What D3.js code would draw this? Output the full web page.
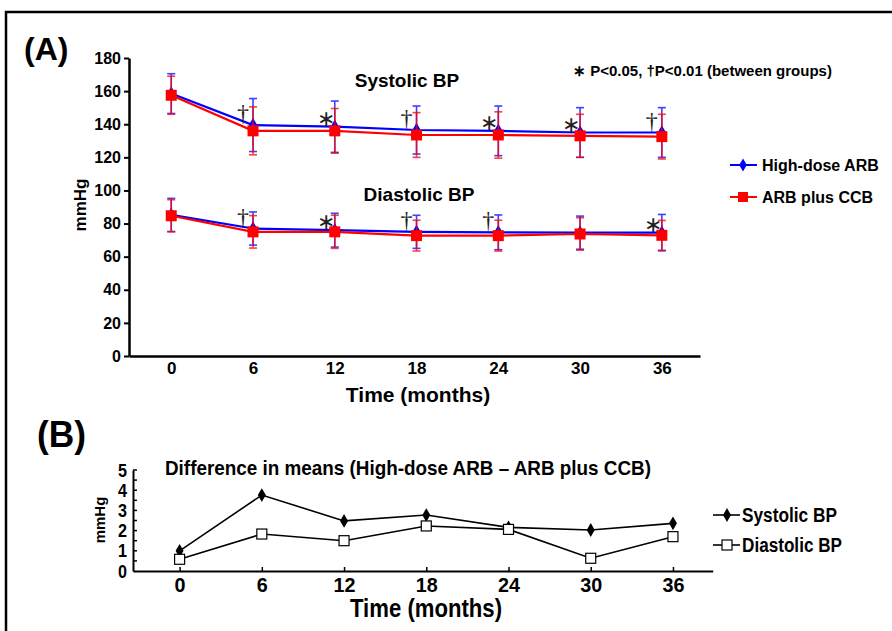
<!doctype html>
<html>
<head>
<meta charset="utf-8">
<script src="https://cdnjs.cloudflare.com/ajax/libs/d3/7.8.5/d3.min.js"></script>
<style>
  body { margin: 0; background: #fff; }
  svg { display: block; }
  .ta { font-family: "Liberation Sans", Arial, Helvetica, sans-serif; font-weight: bold; fill: #000; }
  .tb { font-family: "Liberation Sans", Arial, Helvetica, sans-serif; font-weight: bold; fill: #000; }
</style>
</head>
<body>
<svg width="892" height="631"></svg>
<script>
// ---- data ----
var months = [0, 6, 12, 18, 24, 30, 36];
var yTicksA = [0, 20, 40, 60, 80, 100, 120, 140, 160, 180];
var yTicksB = [0, 1, 2, 3, 4, 5];

var sysHigh = [158.5, 139.5, 138.5, 136.5, 136, 135, 135];
var sysHighSD = [12, 16, 15.5, 14.5, 15, 15, 15];
var sysCcb = [157.5, 136, 136, 133.5, 133.5, 133, 132.5];
var sysCcbSD = [11.5, 14.5, 13.5, 13.5, 14, 13, 13.5];

var diaHigh = [85.2, 77, 76, 75, 74.7, 74.5, 74.5];
var diaHighSD = [10, 10, 10.2, 10, 10.5, 10, 11];
var diaCcb = [84.7, 75, 75, 72.7, 72.7, 73.7, 72.9];
var diaCcbSD = [9.7, 9.8, 10, 9.3, 9.3, 9.8, 9];

var sysSig = ["", "\u2020", "\u2217", "\u2020", "\u2217", "\u2217", "\u2020"];
var diaSig = ["", "\u2020", "\u2217", "\u2020", "\u2020", "", "\u2217"];

var diffSys = [1.0, 3.76, 2.48, 2.77, 2.16, 2.03, 2.36];
var diffDia = [0.58, 1.83, 1.5, 2.23, 2.06, 0.63, 1.7];

var svg = d3.select("svg");

// frame
svg.append("rect").attr("x", 6).attr("y", 12).attr("width", 900).attr("height", 700)
  .attr("fill", "none").attr("stroke", "#000").attr("stroke-width", 2.5);

// ================= Panel A =================
var xA = d3.scaleLinear().domain([-3.1, 38.8]).range([129, 700]);
var yA = d3.scaleLinear().domain([0, 180]).range([356, 58]);

var gA = svg.append("g");
var yAxA = gA.append("g").attr("transform", "translate(129,0)")
  .call(d3.axisLeft(yA).tickValues(yTicksA).tickSize(5).tickPadding(3).tickSizeOuter(0));
yAxA.selectAll("text").attr("class", "ta").style("font-size", "16px").attr("font-family", null);
var xAxA = gA.append("g").attr("transform", "translate(0,356)")
  .call(d3.axisBottom(xA).tickValues(months).tickSize(0).tickPadding(6).tickSizeOuter(0));
xAxA.selectAll("text").attr("class", "ta").style("font-size", "17px").attr("font-family", null);
[yAxA, xAxA].forEach(function (a) {
  a.select(".domain").attr("stroke-width", 2.5);
  a.selectAll(".tick line").attr("stroke-width", 2);
});

function series(g, vals, sds, color, marker) {
  var line = d3.line().x(function (d, i) { return xA(months[i]); }).y(function (d) { return yA(d); });
  g.append("path").datum(vals).attr("d", line).attr("fill", "none")
    .attr("stroke", color).attr("stroke-width", 2.2);
  var eb = g.append("g").attr("stroke", color).attr("stroke-width", 1.6).attr("opacity", 0.75);
  vals.forEach(function (v, i) {
    var x = xA(months[i]), y1 = yA(v + sds[i]), y2 = yA(v - sds[i]);
    eb.append("line").attr("x1", x).attr("x2", x).attr("y1", y1).attr("y2", y2);
    eb.append("line").attr("x1", x - 4).attr("x2", x + 4).attr("y1", y1).attr("y2", y1);
    eb.append("line").attr("x1", x - 4).attr("x2", x + 4).attr("y1", y2).attr("y2", y2);
  });
  vals.forEach(function (v, i) {
    var x = xA(months[i]), y = yA(v);
    if (marker === "diamond") {
      g.append("path").attr("d", d3.symbol(d3.symbolDiamond, 60)())
        .attr("transform", "translate(" + x + "," + y + ")").attr("fill", color);
    } else {
      g.append("rect").attr("x", x - 5.5).attr("y", y - 5.5).attr("width", 11).attr("height", 11)
        .attr("fill", color);
    }
  });
}
series(gA, sysHigh, sysHighSD, "#0000ff", "diamond");
series(gA, diaHigh, diaHighSD, "#0000ff", "diamond");
series(gA, sysCcb, sysCcbSD, "#ff0000", "square");
series(gA, diaCcb, diaCcbSD, "#ff0000", "square");

function sigMarks(sig, vals) {
  sig.forEach(function (s, i) {
    if (!s) return;
    var dagger = s === "\u2020";
    gA.append("text")
      .attr("x", xA(months[i]) - (dagger ? 10 : 9))
      .attr("y", yA(vals[i]) - (dagger ? 4 : 1))
      .attr("text-anchor", "middle")
      .style("font-family", "'Liberation Serif', 'Times New Roman', serif")
      .style("font-size", dagger ? "24px" : "22px")
      .attr("fill", "#222")
      .text(s);
  });
}
sigMarks(sysSig, sysHigh);
sigMarks(diaSig, diaHigh);

gA.append("text").attr("class", "ta").attr("x", 24).attr("y", 60).style("font-size", "32px").text("(A)");
gA.append("text").attr("class", "ta").attr("x", 407).attr("y", 87).attr("text-anchor", "middle")
  .style("font-size", "19px").text("Systolic BP");
gA.append("text").attr("class", "ta").attr("x", 419).attr("y", 201).attr("text-anchor", "middle")
  .style("font-size", "19px").text("Diastolic BP");
gA.append("text").attr("class", "ta").attr("x", 573).attr("y", 76).style("font-size", "15px")
  .text("\u2217 P<0.05, \u2020P<0.01 (between groups)");
gA.append("text").attr("class", "ta").attr("x", 418).attr("y", 402).attr("text-anchor", "middle")
  .style("font-size", "21px").text("Time (months)");
gA.append("text").attr("class", "ta").attr("transform", "translate(86,205) rotate(-90)")
  .attr("text-anchor", "middle").style("font-size", "17px").text("mmHg");

// legend A
var legA = [["High-dose ARB", "#0000ff", "diamond", 165], ["ARB plus CCB", "#ff0000", "square", 197]];
legA.forEach(function (d) {
  gA.append("line").attr("x1", 730).attr("x2", 757).attr("y1", d[3]).attr("y2", d[3])
    .attr("stroke", d[1]).attr("stroke-width", 2);
  if (d[2] === "diamond") {
    gA.append("path").attr("d", d3.symbol(d3.symbolDiamond, 50)())
      .attr("transform", "translate(743," + d[3] + ")").attr("fill", d[1]);
  } else {
    gA.append("rect").attr("x", 738).attr("y", d[3] - 5).attr("width", 10).attr("height", 10).attr("fill", d[1]);
  }
  gA.append("text").attr("class", "ta").attr("x", 762).attr("y", d[3] + 6).style("font-size", "16px").text(d[0]);
});

// ================= Panel B =================
var xB = d3.scaleLinear().domain([-3.4, 38.9]).range([133, 712.7]);
var yB = d3.scaleLinear().domain([0, 5]).range([571, 470]);
var gB = svg.append("g");

var yAxB = gB.append("g").attr("transform", "translate(133,0)")
  .call(d3.axisLeft(yB).tickValues(yTicksB).tickFormat(d3.format("d")).tickSize(0).tickPadding(6).tickSizeOuter(0));
yAxB.selectAll("text").attr("class", "tb").style("font-size", "19px").attr("font-family", null)
  .attr("textLength", 9).attr("lengthAdjust", "spacingAndGlyphs");
// inward minor ticks every 0.5
gB.selectAll("line.minor").data(d3.range(0.5, 5.01, 0.5)).enter().append("line")
  .attr("x1", 133).attr("x2", 137).attr("y1", function (d) { return yB(d); })
  .attr("y2", function (d) { return yB(d); }).attr("stroke", "#000").attr("stroke-width", 1.5);
var xAxB = gB.append("g").attr("transform", "translate(0,571)")
  .call(d3.axisBottom(xB).tickValues(months).tickSize(-4).tickPadding(6).tickSizeOuter(0));
xAxB.selectAll("text").attr("class", "tb").style("font-size", "21px").attr("font-family", null)
  .attr("textLength", function (d) { return String(d).length * 11; })
  .attr("lengthAdjust", "spacingAndGlyphs");
[yAxB, xAxB].forEach(function (a) {
  a.select(".domain").attr("stroke-width", 2);
  a.selectAll(".tick line").attr("stroke-width", 1.5);
});

var lineB = d3.line().x(function (d, i) { return xB(months[i]); }).y(function (d) { return yB(d); });
gB.append("path").datum(diffSys).attr("d", lineB).attr("fill", "none").attr("stroke", "#000").attr("stroke-width", 1.6);
gB.append("path").datum(diffDia).attr("d", lineB).attr("fill", "none").attr("stroke", "#000").attr("stroke-width", 1.6);
diffSys.forEach(function (v, i) {
  gB.append("path").attr("d", d3.symbol(d3.symbolDiamond, 55)())
    .attr("transform", "translate(" + xB(months[i]) + "," + yB(v) + ")").attr("fill", "#000");
});
diffDia.forEach(function (v, i) {
  gB.append("rect").attr("x", xB(months[i]) - 5).attr("y", yB(v) - 5).attr("width", 10).attr("height", 10)
    .attr("fill", "#fff").attr("stroke", "#000").attr("stroke-width", 1.2);
});

gB.append("text").attr("class", "tb").attr("x", 37).attr("y", 447).attr("textLength", 49)
  .attr("lengthAdjust", "spacingAndGlyphs").style("font-size", "37px").text("(B)");
gB.append("text").attr("class", "tb").attr("x", 165).attr("y", 475).attr("textLength", 486)
  .attr("lengthAdjust", "spacingAndGlyphs").style("font-size", "21px")
  .text("Difference in means (High-dose ARB \u2013 ARB plus CCB)");
gB.append("text").attr("class", "tb").attr("x", 350).attr("y", 617).attr("textLength", 152)
  .attr("lengthAdjust", "spacingAndGlyphs").style("font-size", "25px").text("Time (months)");
gB.append("text").attr("class", "ta").attr("transform", "translate(105,520) rotate(-90)")
  .attr("text-anchor", "middle").style("font-size", "15px").text("mmHg");

var legB = [["Systolic BP", "diamond", 515, 95], ["Diastolic BP", "square", 545, 100]];
legB.forEach(function (d) {
  gB.append("line").attr("x1", 713).attr("x2", 740).attr("y1", d[2]).attr("y2", d[2])
    .attr("stroke", "#000").attr("stroke-width", 1.6);
  if (d[1] === "diamond") {
    gB.append("path").attr("d", d3.symbol(d3.symbolDiamond, 55)())
      .attr("transform", "translate(727," + d[2] + ")").attr("fill", "#000");
  } else {
    gB.append("rect").attr("x", 722).attr("y", d[2] - 5).attr("width", 10).attr("height", 10)
      .attr("fill", "#fff").attr("stroke", "#000").attr("stroke-width", 1.2);
  }
  gB.append("text").attr("class", "tb").attr("x", 742).attr("y", d[2] + 7).attr("textLength", d[3])
    .attr("lengthAdjust", "spacingAndGlyphs").style("font-size", "20px").text(d[0]);
});
</script>
</body>
</html>
